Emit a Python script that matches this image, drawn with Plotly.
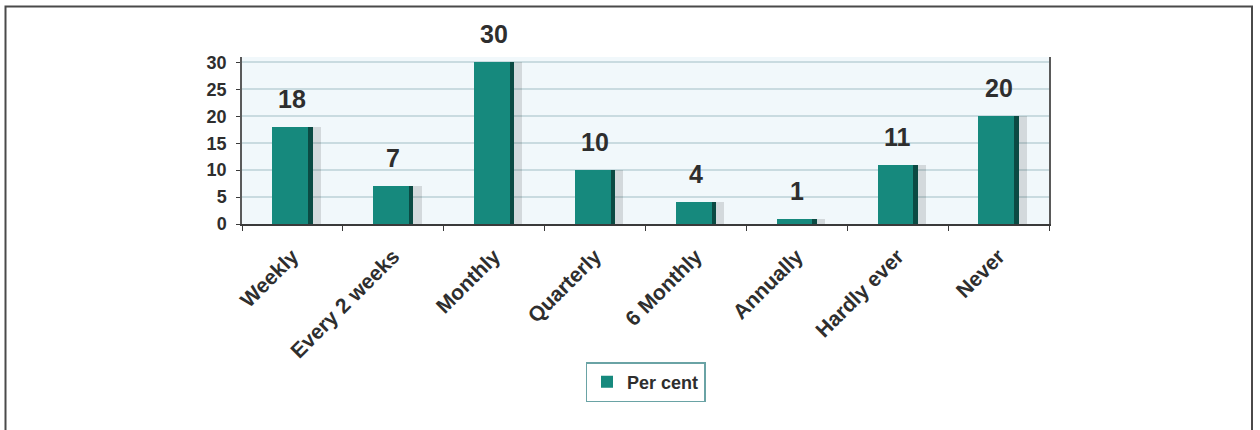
import plotly.graph_objects as go

categories = ["Weekly", "Every 2 weeks", "Monthly", "Quarterly", "6 Monthly",
              "Annually", "Hardly ever", "Never"]
per_cent = [18, 7, 30, 10, 4, 1, 11, 20]
y_ticks = [0, 5, 10, 15, 20, 25, 30]

W, H = 1260, 430
L, R, T, B = 242, 211, 57, 206
pw, ph = W - L - R, H - T - B

def px_x(x):
    return (x - L) / pw

def px_y(y):
    return (H - B - y) / ph

FONT = "Liberation Sans, Arial, sans-serif"
TEAL = "#16897d"
DARK = "#0b4a43"

fig = go.Figure()
# soft shadow
fig.add_trace(go.Bar(x=categories, y=per_cent, width=0.44, offset=-0.16,
                     marker=dict(color="rgba(0,0,0,0.12)", line=dict(width=0)),
                     showlegend=False, hoverinfo="skip"))
# dark edge
fig.add_trace(go.Bar(x=categories, y=per_cent, width=0.40, offset=-0.20,
                     marker=dict(color=DARK, line=dict(width=0)),
                     showlegend=False, hoverinfo="skip"))
# main face
fig.add_trace(go.Bar(x=categories, y=per_cent, width=0.355, offset=-0.20,
                     marker=dict(color=TEAL, line=dict(width=0)),
                     name="Per cent"))

for c, v in zip(categories, per_cent):
    fig.add_annotation(x=c, y=v, text=str(v), showarrow=False, yshift=28,
                       font=dict(family=FONT, size=25, color="#2e2e2e", weight="bold"))

fig.update_layout(
    width=W, height=H,
    margin=dict(l=L, r=R, t=T, b=B, pad=0),
    paper_bgcolor="white",
    plot_bgcolor="#f1f8fb",
    barmode="overlay",
    bargap=0,
    showlegend=True,
    legend=dict(x=0.5, xanchor="center", y=px_y(362), yanchor="top",
                orientation="h", bgcolor="white", bordercolor="#6aa3a5",
                borderwidth=1.5, itemwidth=30,
                font=dict(family=FONT, size=18, color="#2e2e2e", weight="bold")),
    shapes=[dict(type="rect", xref="paper", yref="paper",
                 x0=px_x(5.5), x1=px_x(1252), y0=px_y(445), y1=px_y(6.5),
                 line=dict(color="#4a4a4a", width=2), layer="below")],
)
fig.update_xaxes(
    type="category", tickangle=-45, showline=True, linecolor="#3a3a3a", linewidth=1.5,
    ticks="outside", tickson="boundaries", ticklen=5, tickcolor="#3a3a3a",
    ticklabelstandoff=10,
    tickfont=dict(family=FONT, size=21, color="#2e2e2e", weight="bold"),
    showgrid=False, range=[-0.5, 7.5],
)
fig.update_yaxes(
    range=[0, 31], tickvals=y_ticks, showline=True, mirror=True,
    linecolor="#5a5a5a", linewidth=1.5, ticks="outside", ticklen=4,
    tickcolor="#3a3a3a", showgrid=True, gridcolor="#c9dbe0", gridwidth=1.5,
    zeroline=False, ticklabelstandoff=6,
    tickfont=dict(family=FONT, size=18, color="#2e2e2e", weight="bold"),
)

fig.write_html("out.html")
